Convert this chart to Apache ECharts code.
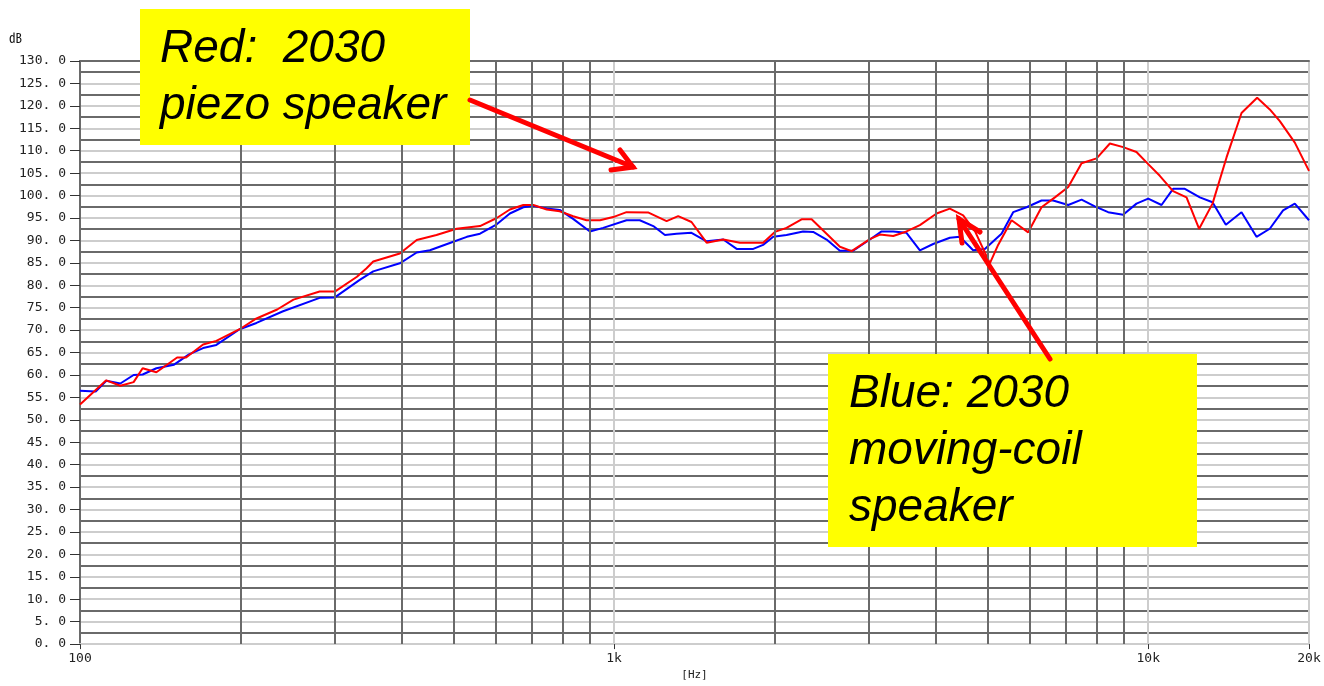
<!DOCTYPE html>
<html>
<head>
<meta charset="utf-8">
<script src="https://cdn.jsdelivr.net/npm/echarts@6/dist/echarts.min.js"></script>
<style>
  html, body { margin: 0; padding: 0; background: #fff; }
  #main { width: 1324px; height: 686px; }
</style>
</head>
<body>
<div id="main"></div>
<script>
// frequency response (Hz, dB)
const redFreq = [100, 112, 119, 126, 131, 139, 152, 158, 170, 180, 199, 214, 234, 251, 281, 300, 330, 344, 354, 397, 427, 465, 507, 561, 603, 638, 676, 706, 748, 791, 838, 888, 941, 996, 1055, 1160, 1254, 1318, 1396, 1490, 1601, 1720, 1901, 2000, 2103, 2244, 2343, 2499, 2647, 2784, 3012, 3145, 3331, 3527, 3737, 4016, 4252, 4503, 4740, 5052, 5236, 5548, 5961, 6313, 6688, 7084, 7503, 8005, 8477, 8975, 9507, 10000, 10512, 11131, 11795, 12455, 13195, 14016, 14951, 15993, 16889, 17636, 18814, 20000];
const redLevel = [53.4, 58.8, 57.6, 58.4, 61.5, 60.6, 63.9, 63.9, 66.8, 67.6, 70.2, 72.6, 74.6, 76.8, 78.6, 78.6, 81.9, 83.8, 85.3, 87.1, 90.1, 91.2, 92.6, 93.2, 95.0, 96.9, 97.9, 97.9, 96.9, 96.5, 95.4, 94.5, 94.5, 95.2, 96.3, 96.2, 94.3, 95.4, 94.1, 89.5, 90.2, 89.5, 89.5, 91.9, 92.8, 94.7, 94.7, 91.5, 88.6, 87.6, 90.3, 91.3, 91.0, 92.0, 93.4, 96.0, 97.1, 95.6, 92.0, 84.9, 89.0, 94.5, 91.8, 97.4, 99.6, 101.9, 107.2, 108.3, 111.6, 110.8, 109.7, 107.0, 104.4, 101.0, 99.6, 92.6, 98.2, 108.5, 118.4, 121.8, 119.2, 116.6, 111.8, 105.5];

const blueFreq = [100, 107, 112, 119, 126, 131, 139, 150, 160, 170, 180, 199, 214, 240, 281, 300, 334, 354, 397, 427, 452, 500, 530, 561, 603, 638, 676, 706, 748, 791, 838, 901, 954, 1055, 1117, 1184, 1245, 1309, 1396, 1490, 1601, 1696, 1822, 1901, 1986, 2103, 2259, 2359, 2499, 2647, 2803, 3012, 3168, 3331, 3527, 3737, 3957, 4252, 4439, 4701, 4944, 5313, 5587, 5919, 6313, 6637, 7084, 7503, 7943, 8414, 8975, 9507, 10000, 10590, 11131, 11711, 12494, 13195, 13974, 14951, 15949, 16889, 17886, 18814, 20000];
const blueLevel = [56.5, 56.3, 58.7, 58.1, 60.0, 60.1, 61.5, 62.3, 64.6, 66.0, 66.7, 70.2, 71.6, 74.2, 77.2, 77.3, 81.2, 83.1, 84.9, 87.3, 87.8, 89.7, 90.8, 91.5, 93.6, 96.0, 97.4, 97.7, 97.1, 96.8, 94.8, 92.0, 92.8, 94.5, 94.5, 93.2, 91.2, 91.5, 91.7, 89.8, 90.2, 88.1, 88.1, 89.0, 90.8, 91.2, 92.0, 91.9, 90.2, 87.7, 87.7, 90.2, 92.0, 92.0, 91.7, 87.8, 89.2, 90.6, 90.8, 87.8, 88.1, 91.5, 96.3, 97.4, 98.9, 98.9, 97.9, 99.1, 97.6, 96.3, 95.7, 98.2, 99.3, 97.9, 101.5, 101.5, 99.6, 98.5, 93.5, 96.3, 90.8, 92.6, 96.7, 98.2, 94.5];

// in-decade grid lines (dark)
const minorFreq = [200, 300, 400, 500, 600, 700, 800, 900, 2000, 3000, 4000, 5000, 6000, 7000, 8000, 9000];

const zip = (xs, ys) => xs.map((x, i) => [x, ys[i]]);

const DARK = '#6a6a6a';
const LIGHT = '#cdcdcd';
const MONO = '"DejaVu Sans Mono", monospace';
const NOTE_FONT = 'italic 46px "Liberation Sans", Arial, sans-serif';

// one text element per line of a note, y = vertical middle of the line
function noteLines(lines, x, y0, step) {
  return lines.map((t, i) => ({
    type: 'text', z: 21, x: x, y: y0 + i * step,
    style: { text: t, font: NOTE_FONT, fill: '#000', verticalAlign: 'middle' }
  }));
}

const chart = echarts.init(document.getElementById('main'));

chart.setOption({
  backgroundColor: '#fff',
  animation: false,
  grid: { left: 80, right: 15, top: 61, bottom: 37 },
  xAxis: [
    {
      type: 'log',
      logBase: 10,
      min: 100,
      max: 20000,
      name: '[Hz]',
      nameLocation: 'middle',
      nameGap: 24,
      nameTextStyle: { fontFamily: MONO, fontSize: 11, color: '#222' },
      axisLine: { show: true, lineStyle: { color: LIGHT, width: 2 } },
      axisTick: { show: true, length: 5, lineStyle: { color: '#333', width: 1 } },
      axisLabel: {
        margin: 8,
        fontFamily: MONO,
        fontSize: 13,
        color: '#222',
        formatter: v => v >= 1000 ? Math.round(v / 1000) + 'k' : String(Math.round(v))
      },
      splitLine: { show: true, lineStyle: { color: LIGHT, width: 2 } }
    },
    {
      type: 'log',
      logBase: 10,
      min: 100,
      max: 20000,
      position: 'top',
      axisLine: { show: true, lineStyle: { color: DARK, width: 2 } },
      axisTick: { show: false },
      axisLabel: { show: false },
      splitLine: { show: false }
    }
  ],
  yAxis: {
    type: 'value',
    min: 0,
    max: 130,
    interval: 5,
    axisLine: { show: true, lineStyle: { color: DARK, width: 2 } },
    axisTick: { show: true, length: 10, lineStyle: { color: '#333', width: 1 } },
    axisLabel: {
      margin: 14,
      fontFamily: MONO,
      fontSize: 13,
      color: '#222',
      formatter: v => v.toFixed(1).replace('.', '. ')
    },
    splitLine: { show: true, lineStyle: { color: LIGHT, width: 2 } },
    minorTick: { show: false, splitNumber: 2 },
    minorSplitLine: { show: true, lineStyle: { color: DARK, width: 2 } }
  },
  series: [
    {
      name: 'grid',
      type: 'line',
      data: [],
      z: 1,
      silent: true,
      markLine: {
        silent: true,
        symbol: ['none', 'none'],
        label: { show: false },
        lineStyle: { color: DARK, width: 2, type: 'solid' },
        data: minorFreq.map(f => ({ xAxis: f }))
      }
    },
    {
      name: 'Blue: 2030 moving-coil speaker',
      type: 'line',
      data: zip(blueFreq, blueLevel),
      showSymbol: false,
      z: 3,
      lineStyle: { color: '#0000ff', width: 2 },
      itemStyle: { color: '#0000ff' }
    },
    {
      name: 'Red: 2030 piezo speaker',
      type: 'line',
      data: zip(redFreq, redLevel),
      showSymbol: false,
      z: 4,
      lineStyle: { color: '#ff0000', width: 2 },
      itemStyle: { color: '#ff0000' }
    }
  ],
  graphic: [
    // unit glyph
    {
      type: 'text', left: 9, top: 31, z: 10,
      style: { text: '㏈', font: '13px "Noto Sans CJK JP"', fill: '#111' }
    },
    // annotation: red
    {
      type: 'rect', z: 20,
      shape: { x: 140, y: 9, width: 330, height: 136 },
      style: { fill: '#ffff00' }
    },
    ...noteLines(['Red:  2030', 'piezo speaker'], 160, 49, 57),
    {
      type: 'polyline', z: 22,
      shape: { points: [[470, 100], [633, 167]] },
      style: { stroke: '#ff0000', lineWidth: 5, lineCap: 'round' }
    },
    {
      type: 'polyline', z: 22,
      shape: { points: [[620, 150], [633, 167], [611, 170]] },
      style: { stroke: '#ff0000', lineWidth: 5, lineCap: 'round', lineJoin: 'miter', fill: null }
    },
    // annotation: blue
    {
      type: 'rect', z: 20,
      shape: { x: 828, y: 354, width: 369, height: 193 },
      style: { fill: '#ffff00' }
    },
    ...noteLines(['Blue: 2030', 'moving-coil', 'speaker'], 849, 394, 57),
    {
      type: 'polyline', z: 22,
      shape: { points: [[1050, 359], [959, 219]] },
      style: { stroke: '#ff0000', lineWidth: 5, lineCap: 'round' }
    },
    {
      type: 'polyline', z: 22,
      shape: { points: [[980, 232], [959, 219], [962, 243]] },
      style: { stroke: '#ff0000', lineWidth: 5, lineCap: 'round', lineJoin: 'miter', fill: null }
    }
  ]
});
</script>
</body>
</html>
